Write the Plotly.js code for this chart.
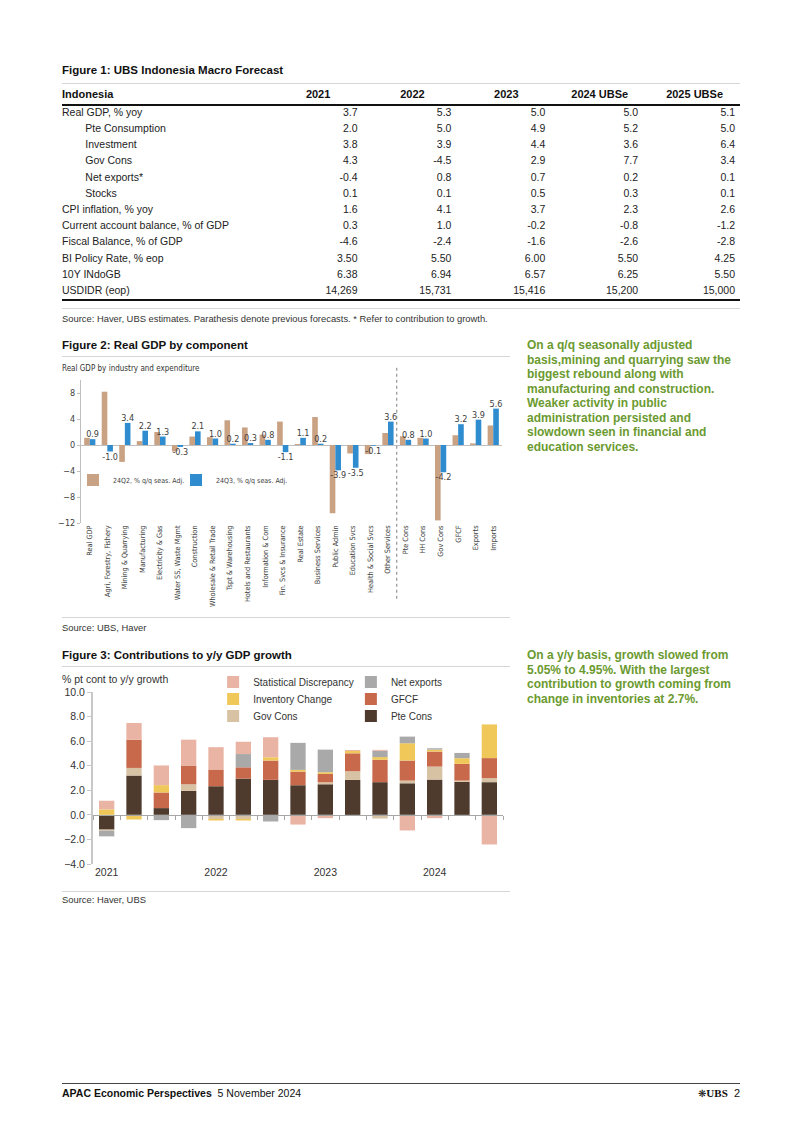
<!DOCTYPE html>
<html><head><meta charset="utf-8">
<script src="https://cdn.plot.ly/plotly-3.0.1.min.js"></script>
<style>
html,body{margin:0;padding:0;background:#fff;}
body{width:802px;height:1134px;position:relative;overflow:hidden;font-family:'Liberation Sans',Arial,sans-serif;color:#1a1a1a;}
.t{position:absolute;white-space:nowrap;}
.title{font-weight:bold;font-size:11.5px;line-height:14px;left:62px;color:#111;}
.rule{position:absolute;height:0;border-top:1px solid #d6d6d6;}
.src{font-size:9.4px;line-height:11px;left:62px;color:#333;}
.note{position:absolute;left:527px;font-weight:bold;font-size:12px;line-height:14.5px;color:#6b9a30;white-space:nowrap;}
.chart{position:absolute;}
</style></head><body>
<div class="t title" style="top:63px">Figure 1: UBS Indonesia Macro Forecast</div>
<div class="rule" style="top:83px;left:62px;width:678px"></div>
<div id="table" class="chart" style="left:0;top:82px;width:802px;height:225px"></div>
<div class="rule" style="top:103.5px;left:62px;width:678px;border-top:2px solid #111"></div>
<div class="rule" style="top:298.5px;left:62px;width:678px;border-top:2px solid #111"></div>
<div class="rule" style="top:308px;left:62px;width:678px"></div>
<div class="t src" style="top:313px">Source: Haver, UBS estimates. Parathesis denote previous forecasts. * Refer to contribution to growth.</div>

<div class="t title" style="top:338px">Figure 2: Real GDP by component</div>
<div class="rule" style="top:356px;left:62px;width:448px"></div>
<div class="t" style="top:364px;left:62px;font-family:'Liberation Sans Narrow','Arial Narrow','DejaVu Sans Condensed','Liberation Sans',sans-serif;font-size:8px;line-height:10px;color:#333">Real GDP by industry and expenditure</div>
<div id="fig2" class="chart" style="left:0;top:360px;width:520px;height:260px"></div>
<div class="rule" style="top:617px;left:62px;width:448px"></div>
<div class="t src" style="top:622px">Source: UBS, Haver</div>
<div class="note" style="top:338px">On a q/q seasonally adjusted<br>basis,mining and quarrying saw the<br>biggest rebound along with<br>manufacturing and construction.<br>Weaker activity in public<br>administration persisted and<br>slowdown seen in financial and<br>education services.</div>

<div class="t title" style="top:648px">Figure 3: Contributions to y/y GDP growth</div>
<div class="rule" style="top:666px;left:62px;width:448px"></div>
<div class="t" style="top:673px;left:62px;font-size:10.5px;line-height:12px;color:#333">% pt cont to y/y growth</div>
<div id="fig3" class="chart" style="left:0;top:650px;width:520px;height:242px"></div>
<div class="rule" style="top:891px;left:62px;width:448px"></div>
<div class="t src" style="top:894px">Source: Haver, UBS</div>
<div class="note" style="top:648px">On a y/y basis, growth slowed from<br>5.05% to 4.95%. With the largest<br>contribution to growth coming from<br>change in inventories at 2.7%.</div>

<div class="rule" style="top:1083px;left:62px;width:678px;border-top:1px solid #444"></div>
<div class="t" style="top:1087px;left:62px;font-size:10.5px;line-height:13px;color:#111"><b>APAC Economic Perspectives</b>&nbsp;&nbsp;5 November 2024</div>
<div class="t" style="top:1087px;right:62px;font-size:11px;line-height:13px;color:#111"><span style="font-family:'DejaVu Sans';font-size:10px">&#10059;</span><span style="font-family:'Liberation Serif';font-weight:bold">UBS</span>&nbsp;&nbsp;2</div>

<script>
// ---------- Figure 1: table data ----------
const tableHeader = ['Indonesia', '2021', '2022', '2023', '2024 UBSe', '2025 UBSe'];
const rowLabels = ['Real GDP, % yoy', 'Pte Consumption', 'Investment', 'Gov Cons', 'Net exports*', 'Stocks',
  'CPI inflation, % yoy', 'Current account balance, % of GDP', 'Fiscal Balance, % of GDP',
  'BI Policy Rate, % eop', '10Y INdoGB', 'USDIDR (eop)'];
const subRows = ['Pte Consumption', 'Investment', 'Gov Cons', 'Net exports*', 'Stocks'];
const val2021 = ['3.7', '2.0', '3.8', '4.3', '-0.4', '0.1', '1.6', '0.3', '-4.6', '3.50', '6.38', '14,269'];
const val2022 = ['5.3', '5.0', '3.9', '-4.5', '0.8', '0.1', '4.1', '1.0', '-2.4', '5.50', '6.94', '15,731'];
const val2023 = ['5.0', '4.9', '4.4', '2.9', '0.7', '0.5', '3.7', '-0.2', '-1.6', '6.00', '6.57', '15,416'];
const val2024 = ['5.0', '5.2', '3.6', '7.7', '0.2', '0.3', '2.3', '-0.8', '-2.6', '5.50', '6.25', '15,200'];
const val2025 = ['5.1', '5.0', '6.4', '3.4', '0.1', '0.1', '2.6', '-1.2', '-2.8', '4.25', '5.50', '15,000'];

// ---------- Figure 2: q/q by component ----------
const fig2Categories = ['Real GDP', 'Agri, Forestry, Fishery', 'Mining & Quarrying', 'Manufacturing',
  'Electricity & Gas', 'Water SS, Waste Mgmt', 'Construction', 'Wholesale & Retail Trade',
  'Tspt & Warehousing', 'Hotels and Restaurants', 'Information & Com', 'Fin. Svcs & Insurance',
  'Real Estate', 'Business Services', 'Public Admin', 'Education Svcs', 'Health & Social Svcs',
  'Other Services', 'Pte Cons', 'HH Cons', 'Gov Cons', 'GFCF', 'Exports', 'Imports'];
const q2_24 = [1.1, 8.2, -2.6, 0.6, 2.0, -1.0, 1.3, 1.2, 3.8, 2.7, 1.6, 3.6,
  0.15, 4.3, -10.5, -1.3, -1.4, 1.85, 1.35, 1.1, -11.6, 1.5, 0.25, 3.0];
const q3_24 = [0.9, -1.0, 3.4, 2.2, 1.3, -0.3, 2.1, 1.0, 0.2, 0.3, 0.8, -1.1,
  1.1, 0.2, -3.9, -3.5, -0.1, 3.6, 0.8, 1.0, -4.2, 3.2, 3.9, 5.6];

// ---------- Figure 3: contributions to y/y growth ----------
const quarters = ['2021Q1', '2021Q2', '2021Q3', '2021Q4', '2022Q1', '2022Q2', '2022Q3', '2022Q4',
  '2023Q1', '2023Q2', '2023Q3', '2023Q4', '2024Q1', '2024Q2', '2024Q3'];
const pteCons = [-1.2, 3.2, 0.55, 1.95, 2.33, 2.95, 2.85, 2.41, 2.49, 2.85, 2.66, 2.57, 2.87, 2.68, 2.66];
const govCons = [-0.1, 0.62, 0, 0.54, -0.33, -0.33, 0, 0, 0.16, 0.7, -0.3, 0.22, 1.06, 0.11, 0.33];
const gfcf = [0, 2.3, 1.27, 1.49, 1.36, 0.92, 1.57, 1.11, 0.68, 1.46, 1.82, 1.63, 1.22, 1.36, 1.63];
const inventoryChange = [0.45, -0.38, 0.6, 0, -0.13, -0.13, 0.27, 0.14, 0.14, 0.19, 0.22, 1.41, 0.16, 0.46, 2.74];
const netExports = [-0.45, 0, -0.43, -1.08, 0, 1.08, -0.54, 2.2, 1.84, 0, 0.51, 0.54, 0.11, 0.43, 0];
const statDiscrepancy = [0.7, 1.36, 1.6, 2.14, 1.82, 1.0, 1.63, -0.79, -0.27, 0.08, 0.08, -1.27, -0.27, 0, -2.41];

const NARROW = "'Liberation Sans Narrow','Arial Narrow','DejaVu Sans Condensed','Liberation Sans',sans-serif";
const REG = "'Liberation Sans',Arial,sans-serif";
const CFG = {staticPlot: true, displayModeBar: false};
const CLEAR = 'rgba(0,0,0,0)';

// ---- Table ----
const INDENT = '\u00a0'.repeat(8);
const labelCol = rowLabels.map(l => subRows.includes(l) ? INDENT + l : l);
Plotly.newPlot('table', [{
  type: 'table',
  domain: {x: [54 / 802, 744 / 802], y: [0, 1]},
  columnwidth: [217, 95, 94, 94, 93, 97],
  header: {
    values: tableHeader,
    align: ['left', 'center', 'center', 'center', 'center', 'center'],
    height: 18,
    fill: {color: CLEAR},
    line: {width: 0, color: CLEAR},
    font: {family: REG, size: 11, color: '#111', weight: 'bold'}
  },
  cells: {
    values: [labelCol, val2021, val2022, val2023, val2024, val2025],
    align: ['left', 'right', 'right', 'right', 'right', 'right'],
    height: 16.2,
    fill: {color: CLEAR},
    line: {width: 0, color: CLEAR},
    font: {family: REG, size: 10.5, color: '#222'}
  }
}], {
  width: 802, height: 225, margin: {l: 0, r: 0, t: 0, b: 0},
  paper_bgcolor: CLEAR
}, CFG);

// ---- Figure 2 ----
const fig2Legend = {orientation: 'h', y: 0.30, xanchor: 'left', yanchor: 'middle',
  font: {family: NARROW, size: 7, color: '#404040'}, bgcolor: CLEAR};
Plotly.newPlot('fig2', [
  {type: 'bar', name: '24Q2, % q/q seas. Adj.', x: fig2Categories, y: q2_24, marker: {color: '#c9a183'}, legend: 'legend'},
  {type: 'bar', name: '24Q3, % q/q seas. Adj.', x: fig2Categories, y: q3_24, marker: {color: '#2e8ccf'}, legend: 'legend2',
   text: q3_24.map(v => v.toFixed(1)), textposition: 'outside', cliponaxis: false, constraintext: 'none',
   textfont: {family: NARROW, size: 9, color: '#404040'}}
], {
  width: 520, height: 260, margin: {l: 81, r: 18, t: 20, b: 97},
  paper_bgcolor: CLEAR, plot_bgcolor: CLEAR,
  barmode: 'group', bargap: 0.36, bargroupgap: 0,
  showlegend: true,
  legend: Object.assign({x: -0.019}, fig2Legend),
  legend2: Object.assign({x: 0.2257}, fig2Legend),
  xaxis: {type: 'category', tickangle: -90, tickfont: {family: NARROW, size: 7.3, color: '#404040'},
    showline: false, ticks: '', showgrid: false, range: [-0.5, 23.5], automargin: false},
  yaxis: {range: [-12, 10], tick0: 0, dtick: 4, showline: true, linecolor: '#bfbfbf', linewidth: 1,
    ticks: 'outside', ticklen: 3, tickcolor: '#bfbfbf', zeroline: true, zerolinecolor: '#bfbfbf', zerolinewidth: 1,
    showgrid: false, tickfont: {family: NARROW, size: 9, color: '#404040'}, automargin: false},
  shapes: [{type: 'line', xref: 'x', yref: 'paper', x0: 17.5, x1: 17.5, y0: -0.53, y1: 1.09,
    line: {color: '#808080', width: 1, dash: 'dot'}}]
}, CFG);

// ---- Figure 3 ----
// legend slots: one single-entry legend per series, laid out as in the original (2 columns x 3 rows)
const seriesStyle = [
  {name: 'Pte Cons', y: pteCons, color: '#4e3b2e', legend: 'legend6'},
  {name: 'Gov Cons', y: govCons, color: '#d8c2a4', legend: 'legend5'},
  {name: 'GFCF', y: gfcf, color: '#c8694c', legend: 'legend4'},
  {name: 'Inventory Change', y: inventoryChange, color: '#f0c85a', legend: 'legend3'},
  {name: 'Net exports', y: netExports, color: '#a9a9a9', legend: 'legend2'},
  {name: 'Statistical Discrepancy', y: statDiscrepancy, color: '#e9b4a4', legend: 'legend'}
];
const traces3 = seriesStyle.map(s => ({type: 'bar', x: quarters, y: s.y, name: s.name,
  marker: {color: s.color, line: {width: 0}}, legend: s.legend}));
traces3.push({type: 'scatter', x: quarters, y: pteCons, xaxis: 'x2', yaxis: 'y', mode: 'none',
  showlegend: false, hoverinfo: 'skip'});
const yearTicks = quarters.filter(q => q.endsWith('Q1'));
const leg3 = (x, y) => ({x: x, y: y, xanchor: 'left', yanchor: 'middle',
  font: {family: REG, size: 10, color: '#333'}, bgcolor: CLEAR});
const col1 = 0.293, col2 = 0.629, row1 = 1.058, row2 = 0.959, row3 = 0.860;
Plotly.newPlot('fig3', traces3, {
  width: 520, height: 242, margin: {l: 93, r: 17, t: 42, b: 28},
  paper_bgcolor: CLEAR, plot_bgcolor: CLEAR,
  barmode: 'relative', bargap: 0.44,
  showlegend: true,
  legend: leg3(col1, row1), legend2: leg3(col2, row1),
  legend3: leg3(col1, row2), legend4: leg3(col2, row2),
  legend5: leg3(col1, row3), legend6: leg3(col2, row3),
  xaxis: {type: 'category', range: [-0.5, 14.5], tickvals: yearTicks, ticktext: yearTicks.map(q => q.slice(0, 4)),
    ticks: '', showline: false, showgrid: false, tickfont: {family: REG, size: 10.5, color: '#333'}, automargin: false},
  xaxis2: {type: 'category', overlaying: 'x', anchor: 'free', position: 4 / 14, range: [-0.5, 14.5],
    showline: true, linecolor: '#a6a6a6', linewidth: 1.5, ticks: 'outside', tickson: 'boundaries', ticklen: 4,
    tickcolor: '#a6a6a6', showticklabels: false, showgrid: false},
  yaxis: {range: [-4, 10], dtick: 2, tick0: 0, tickformat: '.1f', showline: true, linecolor: '#c8c8c8', linewidth: 2,
    ticks: 'outside', ticklen: 4, tickcolor: '#c8c8c8', zeroline: false, showgrid: false,
    tickfont: {family: REG, size: 10.5, color: '#333'}, automargin: false}
}, CFG);
</script>
</body></html>
